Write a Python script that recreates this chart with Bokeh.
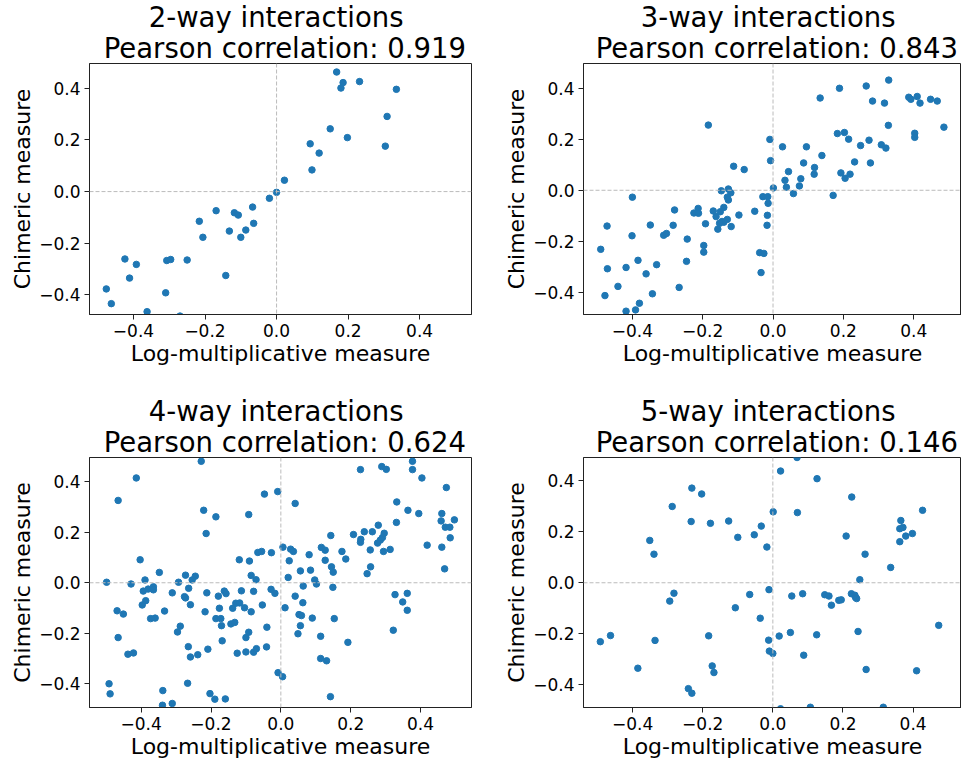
from bokeh.plotting import figure
from bokeh.layouts import row, column
from bokeh.models import Span, FixedTicker, CustomJSTickFormatter, Title, Range1d
from bokeh.embed import file_html
from bokeh.resources import INLINE

titles = ["2-way interactions", "3-way interactions", "4-way interactions", "5-way interactions"]
correlations = ["0.919", "0.843", "0.624", "0.146"]
x_label = "Log-multiplicative measure"
y_label = "Chimeric measure"
tick_values = [-0.4, -0.2, 0.0, 0.2, 0.4]

# 2-way
x2 = [0.0, -0.020, -0.169, -0.067, -0.118, -0.107, -0.216, -0.132, -0.086, -0.064,
      -0.100, -0.206, -0.424, -0.392, -0.411, -0.307, -0.296, -0.250, -0.142, -0.476,
      -0.462, -0.310, -0.362, -0.270, 0.022, 0.099, 0.094, 0.119, 0.150, 0.198,
      0.168, 0.186, 0.180, 0.232, 0.335, 0.309, 0.304]
y2 = [-0.003, -0.026, -0.074, -0.060, -0.082, -0.091, -0.115, -0.153, -0.149, -0.123,
      -0.177, -0.177, -0.261, -0.282, -0.335, -0.267, -0.263, -0.265, -0.325, -0.377,
      -0.434, -0.392, -0.465, -0.482, 0.044, 0.084, 0.185, 0.149, 0.243, 0.209,
      0.463, 0.422, 0.401, 0.426, 0.396, 0.291, 0.176]

# 3-way
x3 = [-0.184, -0.009, -0.007, -0.112, -0.082, 0.001, -0.400, -0.147, -0.127, -0.120,
      -0.130, -0.127, -0.029, -0.015, -0.014, -0.016, -0.017, -0.052, -0.097, -0.140,
      -0.170, -0.162, -0.150, -0.145, -0.140, -0.130, -0.157, -0.119, -0.152, -0.192,
      -0.213, -0.225, -0.212, -0.280, -0.284, -0.349, -0.311, -0.303, -0.244, -0.401,
      -0.472, -0.490, -0.471, -0.418, -0.384, -0.361, -0.331, -0.441, -0.478, -0.343,
      -0.267, -0.246, -0.197, -0.197, -0.418, -0.391, -0.380, -0.038, -0.026, -0.034,
      0.027, 0.095, 0.044, 0.034, 0.038, 0.058, 0.075, 0.079, 0.087, 0.118,
      0.117, 0.139, 0.134, 0.189, 0.171, 0.183, 0.203, 0.215, 0.193, 0.205,
      0.219, 0.232, 0.249, 0.273, 0.277, 0.265, 0.283, 0.317, 0.329, 0.328,
      0.308, 0.321, 0.386, 0.392, 0.410, 0.418, 0.448, 0.467, 0.486, 0.403,
      0.403]
y3 = [0.255, 0.199, 0.116, 0.094, 0.081, 0.009, -0.027, -0.002, 0.005, -0.010,
      -0.027, -0.038, -0.025, -0.025, -0.051, -0.098, -0.137, -0.082, -0.097, -0.067,
      -0.081, -0.103, -0.084, -0.122, -0.125, -0.114, -0.152, -0.142, -0.129, -0.131,
      -0.071, -0.089, -0.090, -0.077, -0.137, -0.136, -0.176, -0.169, -0.191, -0.178,
      -0.140, -0.231, -0.307, -0.302, -0.274, -0.327, -0.291, -0.376, -0.412, -0.405,
      -0.380, -0.278, -0.216, -0.242, -0.473, -0.468, -0.442, -0.244, -0.247, -0.322,
      0.170, 0.170, 0.073, 0.039, 0.012, -0.013, 0.017, 0.045, 0.107, 0.089,
      0.063, 0.136, 0.361, 0.399, -0.020, 0.222, 0.226, 0.200, 0.068, 0.047,
      0.063, 0.111, 0.175, 0.196, 0.107, 0.408, 0.349, 0.341, 0.431, 0.254,
      0.178, 0.165, 0.364, 0.356, 0.367, 0.341, 0.356, 0.349, 0.247, 0.223,
      0.207]

# 4-way
x4 = [-0.228, -0.414, -0.466, -0.047, -0.009, -0.221, -0.186, -0.092, -0.214, 0.006,
      -0.403, -0.119, -0.090, -0.066, -0.055, -0.027, -0.348, -0.273, -0.245, -0.254,
      -0.085, -0.071, -0.499, -0.429, -0.389, -0.394, -0.380, -0.365, -0.365, -0.293,
      -0.311, -0.264, -0.276, -0.273, -0.259, -0.212, -0.179, -0.162, -0.157, -0.113,
      -0.078, -0.028, -0.017, -0.397, -0.387, -0.469, -0.451, -0.333, -0.373, -0.360,
      -0.217, -0.176, -0.138, -0.129, -0.118, -0.104, -0.085, -0.053, -0.186, -0.172,
      -0.170, -0.143, -0.132, -0.040, 0.012, -0.288, -0.296, -0.466, -0.092, -0.100,
      -0.168, -0.265, -0.209, -0.438, -0.422, -0.259, -0.238, -0.125, -0.100, -0.078,
      -0.070, -0.041, -0.008, 0.005, -0.492, -0.489, -0.338, -0.267, -0.203, -0.189,
      -0.159, -0.339, -0.311,
      0.041, 0.028, 0.036, 0.024, 0.021, 0.056, 0.081, 0.085, 0.064, 0.097,
      0.102, 0.041, 0.063, 0.052, 0.059, 0.056, 0.049, 0.090, 0.114, 0.114,
      0.131, 0.142, 0.153, 0.149, 0.145, 0.150, 0.127, 0.116, 0.127, 0.143,
      0.175, 0.186, 0.192, 0.208, 0.228, 0.229, 0.228, 0.239, 0.262, 0.256,
      0.257, 0.247, 0.279, 0.277, 0.285, 0.291, 0.296, 0.294, 0.313, 0.289,
      0.302, 0.332, 0.331, 0.364, 0.395, 0.377, 0.377, 0.404, 0.474, 0.461,
      0.459, 0.471, 0.484, 0.497, 0.485, 0.461, 0.419, 0.469, 0.327, 0.362,
      0.349, 0.362, 0.322]
y4 = [0.481, 0.415, 0.326, 0.351, 0.361, 0.287, 0.261, 0.270, 0.195, 0.141,
      0.091, 0.091, 0.086, 0.120, 0.124, 0.119, 0.041, 0.030, 0.026, 0.011,
      0.029, 0.012, 0.002, -0.005, 0.011, -0.033, -0.025, -0.016, -0.028, 0.002,
      -0.040, -0.022, -0.055, -0.060, -0.087, -0.040, -0.053, -0.033, -0.043, -0.032,
      -0.034, -0.026, -0.042, -0.088, -0.071, -0.111, -0.124, -0.112, -0.142, -0.140,
      -0.115, -0.101, -0.101, -0.081, -0.080, -0.099, -0.115, -0.088, -0.142, -0.142,
      -0.170, -0.163, -0.157, -0.176, -0.099, -0.172, -0.195, -0.217, -0.196, -0.217,
      -0.230, -0.253, -0.263, -0.283, -0.278, -0.294, -0.285, -0.279, -0.274, -0.275,
      -0.261, -0.254, -0.356, -0.372, -0.400, -0.440, -0.427, -0.398, -0.439, -0.461,
      -0.460, -0.485, -0.478,
      0.314, 0.133, 0.124, 0.087, 0.021, 0.047, 0.111, 0.050, -0.013, 0.011,
      -0.005, -0.053, -0.079, -0.126, -0.130, -0.170, -0.202, -0.140, -0.212, -0.300,
      -0.309, -0.451, -0.142, -0.018, 0.063, 0.042, 0.089, 0.140, 0.129, 0.187,
      0.124, 0.094, -0.236, 0.191, 0.448, 0.172, 0.160, 0.202, 0.202, 0.130,
      0.063, 0.036, 0.228, 0.157, 0.169, 0.179, 0.196, 0.124, 0.132, 0.460,
      0.449, 0.320, 0.239, 0.287, 0.274, 0.481, 0.448, 0.415, 0.377, 0.274,
      0.245, 0.220, 0.220, 0.249, 0.178, 0.141, 0.149, 0.055, -0.047, -0.042,
      -0.076, -0.109, -0.188]

# 5-way
x5 = [-0.231, -0.203, -0.287, -0.233, -0.178, -0.126, -0.100, -0.053, -0.033, -0.017,
      0.001, -0.351, -0.339, -0.282, -0.294, -0.066, -0.011, -0.107, -0.036, -0.492,
      -0.463, -0.336, -0.183, -0.012, -0.010, 0.000, -0.385, -0.173, -0.168, -0.241,
      -0.231,
      0.069, 0.022, 0.126, 0.225, 0.070, 0.209, 0.263, 0.336, 0.248, 0.427,
      0.365, 0.362, 0.371, 0.379, 0.398, 0.362, 0.054, 0.085, 0.148, 0.160,
      0.167, 0.188, 0.195, 0.224, 0.234, 0.236, 0.239, 0.050, 0.018, 0.125,
      0.243, 0.473, 0.088, 0.266, 0.410, 0.107, 0.315, 0.022]
y5 = [0.371, 0.348, 0.299, 0.240, 0.233, 0.242, 0.178, 0.188, 0.222, 0.140,
      0.278, 0.166, 0.112, -0.041, -0.072, -0.046, -0.027, -0.098, -0.139, -0.231,
      -0.207, -0.226, -0.208, -0.225, -0.268, -0.277, -0.335, -0.326, -0.352, -0.415,
      -0.433,
      0.491, 0.438, 0.408, 0.336, 0.275, 0.183, 0.112, 0.060, 0.012, 0.284,
      0.244, 0.212, 0.217, 0.183, 0.193, 0.161, -0.052, -0.043, -0.047, -0.052,
      -0.088, -0.069, -0.067, -0.043, -0.049, -0.058, -0.062, -0.195, -0.209, -0.204,
      -0.191, -0.167, -0.284, -0.340, -0.345, -0.488, -0.488, -0.494]

FONT = "DejaVu Sans"
NBSP = "\u00a0"
tick_fmt = CustomJSTickFormatter(code="""
    const s = Math.abs(tick).toFixed(1);
    return (tick < -1e-9 ? '\u2212' : '') + s;
""")


def make_panel(xs, ys, title, corr, xr, yr, width, height, bl, br, bt, bb):
    p = figure(width=width, height=height, output_backend="svg", toolbar_location=None,
               x_range=Range1d(*xr), y_range=Range1d(*yr),
               min_border_left=bl, min_border_right=br, min_border_top=bt, min_border_bottom=bb)
    p.background_fill_color = "white"
    p.border_fill_color = "white"
    p.outline_line_color = "#222222"
    p.outline_line_width = 1
    p.xgrid.visible = False
    p.ygrid.visible = False
    t2 = Title(text=NBSP + "Pearson correlation: " + corr, align="center", text_font=FONT,
               text_font_size="27.5px", text_font_style="normal", text_color="black",
               standoff=0, offset=0)
    t1 = Title(text=title + NBSP, align="center", text_font=FONT,
               text_font_size="27.5px", text_font_style="normal", text_color="black",
               standoff=-6, offset=0)
    p.add_layout(t2, "above")
    p.add_layout(t1, "above")
    for ax, lab in ((p.xaxis[0], x_label), (p.yaxis[0], y_label)):
        ax.ticker = FixedTicker(ticks=tick_values)
        ax.formatter = tick_fmt
        ax.axis_label = lab
        ax.axis_label_text_font = FONT
        ax.axis_label_text_font_size = "22px"
        ax.axis_label_text_font_style = "normal"
        ax.axis_label_text_color = "black"
        ax.major_label_text_font = FONT
        ax.major_label_text_font_size = "17px"
        ax.major_label_text_color = "black"
        ax.major_tick_in = 0
        ax.major_tick_out = 5
        ax.major_tick_line_color = "#222222"
        ax.minor_tick_line_color = None
        ax.axis_line_color = "#222222"
        ax.major_label_standoff = 4
        ax.axis_label_standoff = 1
    p.add_layout(Span(location=0, dimension="height", line_color="#bbbbbb",
                      line_dash="4 2", line_width=1))
    p.add_layout(Span(location=0, dimension="width", line_color="#bbbbbb",
                      line_dash="4 2", line_width=1))
    p.scatter(xs, ys, size=6.5, fill_color="#1f77b4", line_color="#1f77b4")
    return p


p1 = make_panel(x2, y2, titles[0], correlations[0], (-0.523, 0.545), (-0.476, 0.496),
                480, 395, 89, 9, 63, 81)
p2 = make_panel(x3, y3, titles[1], correlations[1], (-0.539, 0.536), (-0.486, 0.496),
                481, 395, 103, 0, 63, 81)
p3 = make_panel(x4, y4, titles[2], correlations[2], (-0.548, 0.546), (-0.494, 0.496),
                480, 366, 89, 9, 62, 54)
p4 = make_panel(x5, y5, titles[3], correlations[3], (-0.540, 0.538), (-0.489, 0.491),
                481, 366, 103, 0, 62, 54)

layout = column(row(p1, p2), row(p3, p4))
with open("out.html", "w", encoding="utf-8") as f:
    f.write(file_html(layout, INLINE))
